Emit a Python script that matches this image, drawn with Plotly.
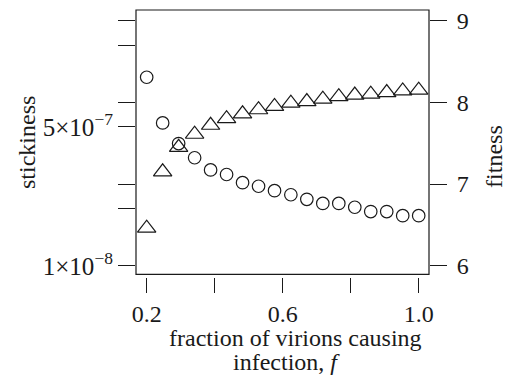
import plotly.graph_objects as go

# fraction of virions causing infection, f
f_vals = [0.200, 0.247, 0.294, 0.341, 0.388, 0.435, 0.482, 0.529, 0.576,
          0.624, 0.671, 0.718, 0.765, 0.812, 0.859, 0.906, 0.953, 1.000]
# stickiness (circles, left log axis)
stickiness = [2.03e-6, 5.6e-7, 3.13e-7, 2.10e-7, 1.49e-7, 1.31e-7, 1.04e-7, 9.4e-8, 8.3e-8,
              7.4e-8, 6.5e-8, 5.8e-8, 5.8e-8, 5.2e-8, 4.6e-8, 4.6e-8, 4.1e-8, 4.1e-8]
# fitness (triangles, right axis)
fitness = [6.46, 7.15, 7.45, 7.61, 7.72, 7.80, 7.86, 7.91, 7.95,
           7.99, 8.01, 8.04, 8.07, 8.09, 8.10, 8.12, 8.14, 8.15]

x_tickvals = [0.2, 0.6, 1.0]
x_ticktext = ["0.2", "0.6", "1.0"]
x_minor = [0.4, 0.8]
yl_tickvals = [1e-8, 5e-7]
yl_ticktext = ["1\u00d710<sup>\u22128</sup>", "5\u00d710<sup>\u22127</sup>"]
yl_minor = [5e-8, 1e-7, 1e-6, 5e-6, 1e-5]
yr_tickvals = [6, 7, 8, 9]
yr_ticktext = ["6", "7", "8", "9"]

INK = "#1a1a1a"
FONT = "Liberation Serif"
FS = 24

fig = go.Figure()
fig.add_trace(go.Scatter(
    x=f_vals, y=stickiness, mode="markers", yaxis="y",
    marker=dict(symbol="circle-open", size=12.5, color=INK, line=dict(width=1.2, color=INK)),
    showlegend=False, cliponaxis=False))
fig.add_trace(go.Scatter(
    x=f_vals, y=fitness, mode="markers", yaxis="y2",
    marker=dict(symbol="triangle-up-open", size=16, color=INK, line=dict(width=1.2, color=INK)),
    showlegend=False, cliponaxis=False))

axis_common = dict(showgrid=False, zeroline=False, showline=False, ticks="outside",
                   tickcolor=INK, tickwidth=1.2)

fig.update_layout(
    width=511, height=383,
    margin=dict(l=136, r=82, t=8, b=106),
    paper_bgcolor="white", plot_bgcolor="white",
    font=dict(family=FONT, size=FS, color=INK),
    xaxis=dict(range=[0.1686, 1.0303], tickmode="array", tickvals=x_tickvals, ticktext=x_ticktext,
               ticklen=15, anchor="free", position=0,
               tickfont=dict(family=FONT, size=FS, color=INK),
               minor=dict(tickmode="array", tickvals=x_minor, ticks="outside", ticklen=15,
                          tickwidth=1.2, tickcolor=INK, showgrid=False),
               **axis_common),
    yaxis=dict(type="log", range=[-8.105, -4.869], domain=[0.01, 1], tickmode="array",
               tickvals=yl_tickvals, ticktext=yl_ticktext, ticklen=17,
               tickfont=dict(family=FONT, size=25, color=INK),
               minor=dict(tickmode="array", tickvals=yl_minor, ticks="outside", ticklen=17,
                          tickwidth=1.2, tickcolor=INK, showgrid=False),
               **axis_common),
    yaxis2=dict(range=[5.895, 9.131], domain=[0.01, 1], overlaying="y", side="right",
                anchor="x", tickmode="array", tickvals=yr_tickvals, ticktext=yr_ticktext,
                ticklen=17, ticklabelstandoff=5,
                tickfont=dict(family=FONT, size=FS, color=INK), **axis_common),
    shapes=[dict(type="rect", xref="x domain", yref="y domain", x0=0, x1=1, y0=0, y1=1,
                 line=dict(color=INK, width=1.2), layer="above")],
    annotations=[
        dict(text="stickiness", textangle=-90, xref="paper", yref="paper",
             x=-0.372, y=0.502, showarrow=False, xanchor="center", yanchor="middle",
             font=dict(family=FONT, size=24, color=INK)),
        dict(text="fitness", textangle=-90, xref="paper", yref="paper",
             x=1.222, y=0.45, showarrow=False, xanchor="center", yanchor="middle",
             font=dict(family=FONT, size=24, color=INK)),
        dict(text="fraction of virions causing", xref="paper", yref="paper",
             x=0.546, y=-0.229, showarrow=False, xanchor="center", yanchor="middle",
             font=dict(family=FONT, size=24, color=INK)),
        dict(text="infection, <i>f</i>", xref="paper", yref="paper",
             x=0.515, y=-0.320, showarrow=False, xanchor="center", yanchor="middle",
             font=dict(family=FONT, size=24, color=INK)),
    ],
)

fig.write_html("out.html")
